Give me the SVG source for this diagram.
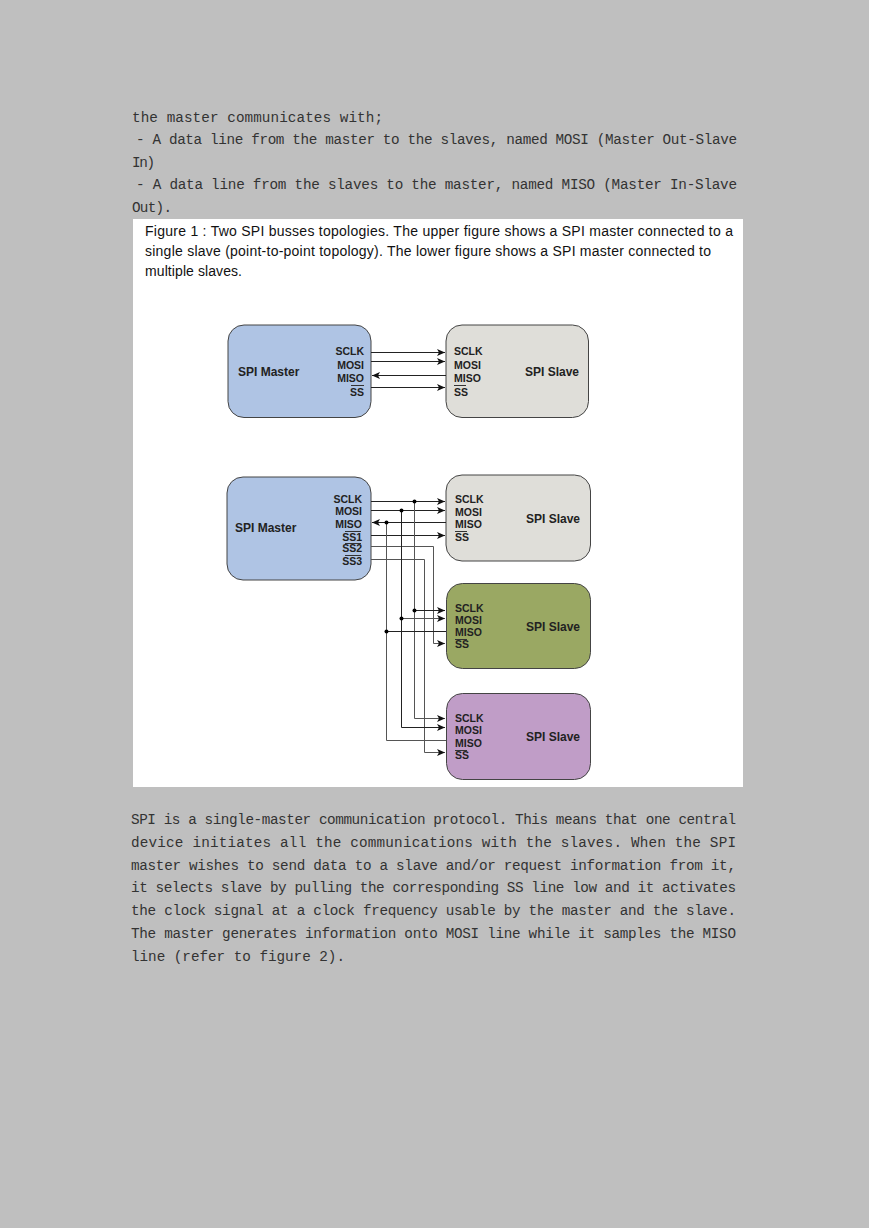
<svg xmlns="http://www.w3.org/2000/svg" width="869" height="1228" viewBox="0 0 869 1228">
<style>
.b{font-family:"Liberation Mono","Noto Sans CJK SC",monospace;font-size:14.300px;fill:#333}
.c{font-family:"Liberation Sans",Arial,sans-serif;font-size:14px;fill:#111}
.l{font-family:"Liberation Sans",Arial,sans-serif;font-size:10.500px;font-weight:bold;fill:#222}
.t{font-family:"Liberation Sans",Arial,sans-serif;font-size:12px;font-weight:bold;fill:#222}
.n{stroke:#444;stroke-width:1}
.w{fill:none;stroke:#222;stroke-width:1}
.g{fill:none;stroke:#555;stroke-width:1}
.o{stroke:#333;stroke-width:1}
</style>
<defs>
<marker id="a" markerUnits="userSpaceOnUse" markerWidth="9" markerHeight="8" refX="8" refY="4" orient="auto"><path d="M0,0.500 L8,4 L0,7.500 L2,4 Z" fill="#111"/></marker>
</defs>
<rect width="869" height="1228" fill="#bfbfbf"/>
<g id="text-top">
<text class="b" x="132" y="122" textLength="251" lengthAdjust="spacing">the master communicates with;</text>
<text class="b" x="136" y="144" textLength="601" lengthAdjust="spacing">- A data line from the master to the slaves, named MOSI (Master Out-Slave</text>
<text class="b" x="132" y="167" textLength="23" lengthAdjust="spacing">In)</text>
<text class="b" x="136" y="189" textLength="601" lengthAdjust="spacing">- A data line from the slaves to the master, named MISO (Master In-Slave</text>
<text class="b" x="132" y="212" textLength="40" lengthAdjust="spacing">Out).</text>
</g>
<rect id="figure" x="133" y="219" width="610" height="568" fill="#fff"/>
<g id="caption">
<text class="c" x="145" y="236" textLength="588" lengthAdjust="spacing">Figure 1 : Two SPI busses topologies. The upper figure shows a SPI master connected to a</text>
<text class="c" x="145" y="256" textLength="566" lengthAdjust="spacing">single slave (point-to-point topology). The lower figure shows a SPI master connected to</text>
<text class="c" x="145" y="276" textLength="97" lengthAdjust="spacing">multiple slaves.</text>
</g>
<g id="master-1">
<rect class="n" x="228" y="325" width="143" height="92.500" rx="16" fill="#afc4e4"/>
<text class="t" x="238" y="376">SPI Master</text>
<text class="l" x="364" y="355" text-anchor="end">SCLK</text>
<text class="l" x="364" y="369" text-anchor="end">MOSI</text>
<text class="l" x="364" y="382" text-anchor="end">MISO</text>
<text class="l" x="364" y="396" text-anchor="end">SS</text>
<line class="o" x1="351" y1="385.500" x2="364" y2="385.500"/>
</g>
<g id="slave-1">
<rect class="n" x="446" y="325" width="142.500" height="92.500" rx="16" fill="#dfded9"/>
<text class="t" x="525" y="376">SPI Slave</text>
<text class="l" x="454" y="355">SCLK</text>
<text class="l" x="454" y="369">MOSI</text>
<text class="l" x="454" y="382">MISO</text>
<text class="l" x="454" y="396">SS</text>
<line class="o" x1="454" y1="385.500" x2="466" y2="385.500"/>
</g>
<g id="master-2">
<rect class="n" x="227" y="477" width="144" height="103" rx="16" fill="#afc4e4"/>
<text class="t" x="235" y="532">SPI Master</text>
<text class="l" x="362" y="503" text-anchor="end">SCLK</text>
<text class="l" x="362" y="515" text-anchor="end">MOSI</text>
<text class="l" x="362" y="528" text-anchor="end">MISO</text>
<text class="l" x="362" y="541" text-anchor="end">SS1</text>
<line class="o" x1="345" y1="531.500" x2="361" y2="531.500"/>
<text class="l" x="362" y="552" text-anchor="end">SS2</text>
<line class="o" x1="345" y1="543.500" x2="361" y2="543.500"/>
<text class="l" x="362" y="565" text-anchor="end">SS3</text>
<line class="o" x1="345" y1="555.500" x2="361" y2="555.500"/>
</g>
<g id="slave-2">
<rect class="n" x="446" y="475" width="144.500" height="86" rx="16" fill="#dfded9"/>
<text class="t" x="526" y="523">SPI Slave</text>
<text class="l" x="455" y="503">SCLK</text>
<text class="l" x="455" y="516">MOSI</text>
<text class="l" x="455" y="528">MISO</text>
<text class="l" x="455" y="541">SS</text>
<line class="o" x1="455" y1="531.500" x2="467" y2="531.500"/>
</g>
<g id="slave-3">
<rect class="n" x="446.500" y="583.500" width="144" height="85" rx="16" fill="#9aa863"/>
<text class="t" x="526" y="631">SPI Slave</text>
<text class="l" x="455" y="612">SCLK</text>
<text class="l" x="455" y="624">MOSI</text>
<text class="l" x="455" y="636">MISO</text>
<text class="l" x="455" y="648">SS</text>
<line class="o" x1="455" y1="639.500" x2="467" y2="639.500"/>
</g>
<g id="slave-4">
<rect class="n" x="446.500" y="693.500" width="144" height="86" rx="16" fill="#c09dc7"/>
<text class="t" x="526" y="741">SPI Slave</text>
<text class="l" x="455" y="722">SCLK</text>
<text class="l" x="455" y="734">MOSI</text>
<text class="l" x="455" y="747">MISO</text>
<text class="l" x="455" y="759">SS</text>
<line class="o" x1="455" y1="750.500" x2="467" y2="750.500"/>
</g>
<g id="connectors">
<line class="w" x1="371" y1="352.500" x2="445" y2="352.500" marker-end="url(#a)"/>
<line class="w" x1="371" y1="361.500" x2="445" y2="361.500" marker-end="url(#a)"/>
<line class="w" x1="446" y1="375.500" x2="372" y2="375.500" marker-end="url(#a)"/>
<line class="w" x1="371" y1="387.500" x2="445" y2="387.500" marker-end="url(#a)"/>
<line class="w" x1="371" y1="501.500" x2="445" y2="501.500" marker-end="url(#a)"/>
<line class="w" x1="371" y1="510.500" x2="445" y2="510.500" marker-end="url(#a)"/>
<line class="w" x1="446" y1="522.500" x2="372" y2="522.500" marker-end="url(#a)"/>
<line class="w" x1="371" y1="535.500" x2="445" y2="535.500" marker-end="url(#a)"/>
<polyline class="g" points="371,546.500 433.500,546.500 433.500,643.500 445,643.500" marker-end="url(#a)"/>
<polyline class="g" points="371,559.500 424.500,559.500 424.500,752.500 445,752.500" marker-end="url(#a)"/>
<polyline class="g" points="414.500,501.500 414.500,718.500 445,718.500" marker-end="url(#a)"/>
<polyline class="w" points="401.500,510.500 401.500,727.500 445,727.500" marker-end="url(#a)"/>
<polyline class="g" points="386.500,522.500 386.500,740.500 446,740.500"/>
<line class="w" x1="414.500" y1="610.500" x2="445" y2="610.500" marker-end="url(#a)"/>
<line class="g" x1="401.500" y1="618.500" x2="445" y2="618.500" marker-end="url(#a)"/>
<line class="w" x1="386.500" y1="631.500" x2="446" y2="631.500"/>
<circle cx="414.500" cy="501.500" r="2"/>
<circle cx="401.500" cy="510.500" r="2"/>
<circle cx="386.500" cy="522.500" r="2"/>
<circle cx="414.500" cy="610.500" r="2"/>
<circle cx="401.500" cy="618.500" r="2"/>
<circle cx="386.500" cy="631.500" r="2"/>
</g>
<g id="text-bottom">
<text class="b" x="131" y="824" textLength="605" lengthAdjust="spacing">SPI is a single-master communication protocol. This means that one central</text>
<text class="b" x="131" y="847" textLength="605" lengthAdjust="spacing">device initiates all the communications with the slaves. When the SPI</text>
<text class="b" x="131" y="870" textLength="605" lengthAdjust="spacing">master wishes to send data to a slave and/or request information from it,</text>
<text class="b" x="131" y="892" textLength="605" lengthAdjust="spacing">it selects slave by pulling the corresponding SS line low and it activates</text>
<text class="b" x="131" y="915" textLength="605" lengthAdjust="spacing">the clock signal at a clock frequency usable by the master and the slave.</text>
<text class="b" x="131" y="938" textLength="605" lengthAdjust="spacing">The master generates information onto MOSI line while it samples the MISO</text>
<text class="b" x="131" y="961" textLength="214" lengthAdjust="spacing">line (refer to figure 2).</text>
</g>
</svg>
